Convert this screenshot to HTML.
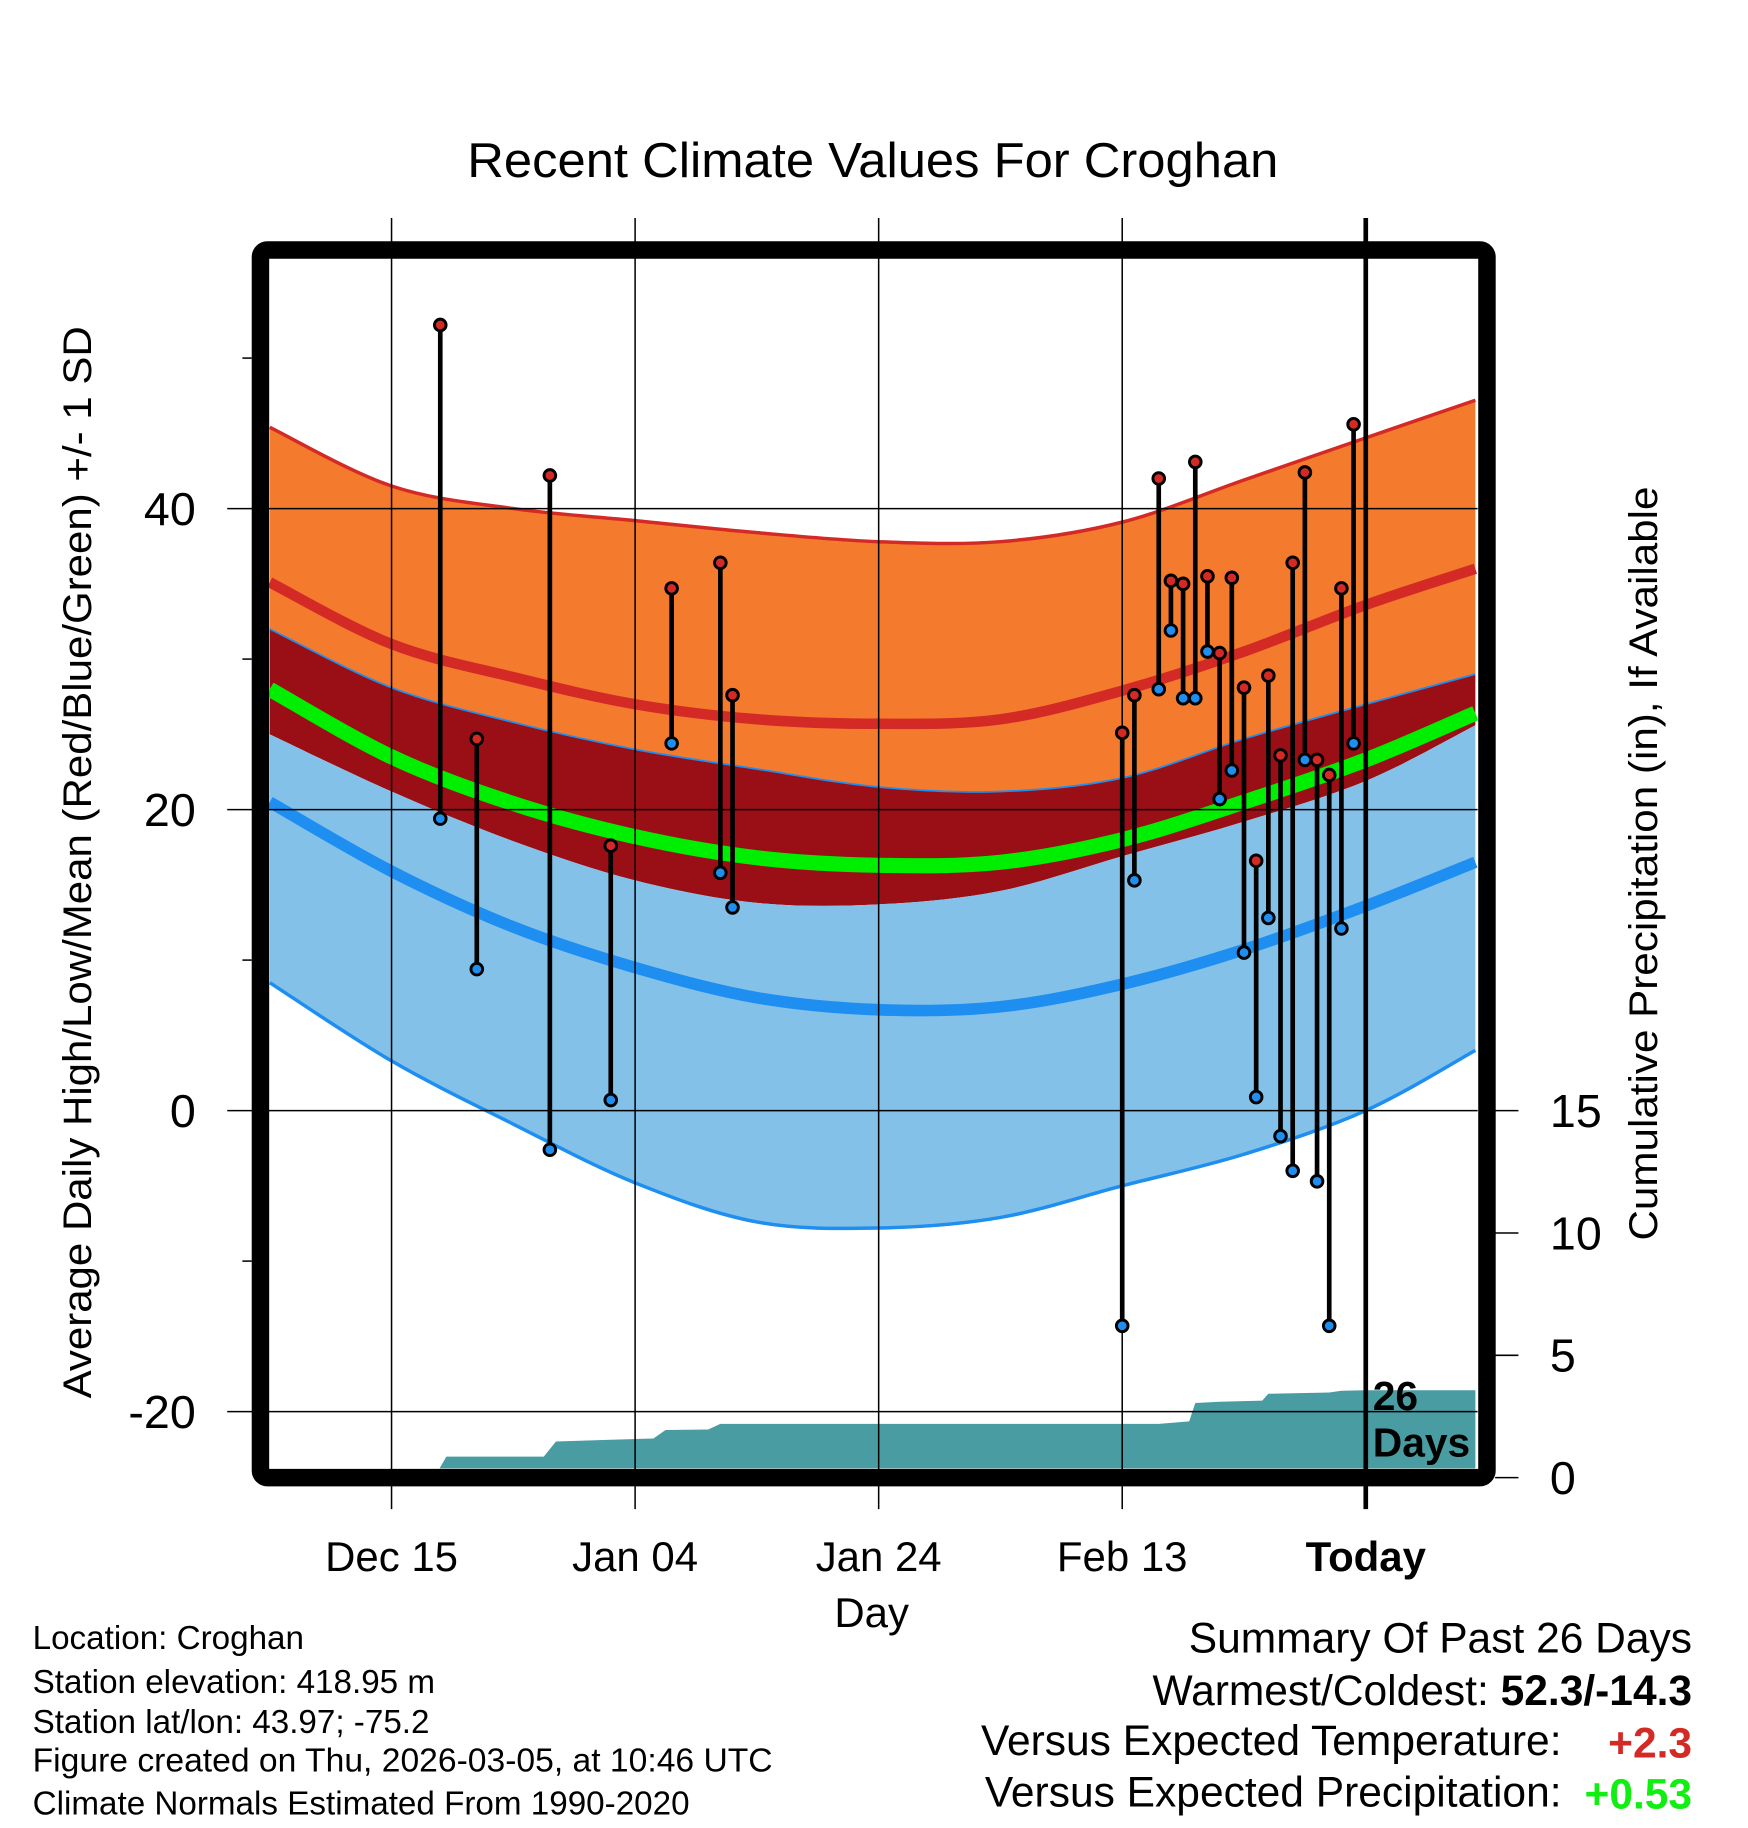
<!DOCTYPE html>
<html><head><meta charset="utf-8"><style>
html,body{margin:0;padding:0;background:#fff}
svg{display:block}
text{font-family:"Liberation Sans",sans-serif}
</style></head><body>
<svg id="chart" width="1748" height="1828" viewBox="0 0 1500 1568.6" xmlns="http://www.w3.org/2000/svg">
<defs><clipPath id="pc"><rect x="231" y="222" width="1037" height="1038"/></clipPath></defs>
<text x="749" y="152" font-size="42" text-anchor="middle" textLength="696" lengthAdjust="spacingAndGlyphs">Recent Climate Values For Croghan</text>
<g id="bands" clip-path="url(#pc)"></g>
<g id="grid"></g>
<g id="obs" clip-path="url(#pc)"></g>
<rect x="223.5" y="214.5" width="1052.5" height="1053.5" rx="6" fill="none" stroke="#000" stroke-width="15"/>
<g id="axes"></g>
<text transform="translate(78,740) rotate(-90)" font-size="34" text-anchor="middle" textLength="920" lengthAdjust="spacingAndGlyphs">Average Daily High/Low/Mean (Red/Blue/Green) +/- 1 SD</text>
<text transform="translate(1422,741) rotate(-90)" font-size="34" text-anchor="middle" textLength="647" lengthAdjust="spacingAndGlyphs">Cumulative Precipitation (in), If Available</text>
<text x="748" y="1396" font-size="36" text-anchor="middle">Day</text>
<g font-size="28.5">
<text x="28" y="1415">Location: Croghan</text>
<text x="28" y="1453">Station elevation: 418.95 m</text>
<text x="28" y="1487">Station lat/lon: 43.97; -75.2</text>
<text x="28" y="1520" textLength="635" lengthAdjust="spacingAndGlyphs">Figure created on Thu, 2026-03-05, at 10:46 UTC</text>
<text x="28" y="1557">Climate Normals Estimated From 1990-2020</text>
</g>
<g font-size="36.5">
<text x="1452" y="1418" text-anchor="end">Summary Of Past 26 Days</text>
<text x="1452" y="1463" text-anchor="end">Warmest/Coldest: <tspan font-weight="bold">52.3/-14.3</tspan></text>
<text x="1340" y="1506" text-anchor="end">Versus Expected Temperature:</text>
<text x="1452" y="1508" text-anchor="end" font-weight="bold" fill="#d42a26">+2.3</text>
<text x="1340" y="1550" text-anchor="end">Versus Expected Precipitation:</text>
<text x="1452" y="1552" text-anchor="end" font-weight="bold" fill="#11ee11">+0.53</text>
</g>
</svg>
<script>
const normDays=[-90,-80,-70,-60,-50,-40,-30,-20,-10,0,9];
const highPlusSD=[45.4,41.5,40,39.2,38.4,37.8,37.8,39.1,41.9,44.7,47.2];
const highMean=[35.1,31,28.8,27,26,25.7,26,27.9,30.5,33.6,36];
const highMinusSD=[32,28.1,25.8,24,22.7,21.5,21.2,22.1,24.7,27,29];
const meanTemp=[28,23.5,20.4,18.2,16.8,16.3,16.5,18,20.5,23.3,26.4];
const lowPlusSD=[25,21.2,17.9,15.3,13.8,13.7,14.6,16.9,19.2,21.9,25.6];
const lowMean=[20.5,15.9,12.2,9.5,7.5,6.7,6.9,8.4,10.7,13.6,16.5];
const lowMinusSD=[8.5,3.3,-0.9,-4.8,-7.4,-7.8,-7.1,-5,-2.9,0,4];
const obsDays=[-76,-73,-67,-62,-57,-53,-52,-20,-19,-17,-16,-15,-14,-13,-12,-11,-10,-9,-8,-7,-6,-5,-4,-3,-2,-1];
const obsHigh=[52.2,24.7,42.2,17.6,34.7,36.4,27.6,25.1,27.6,42,35.2,35,43.1,35.5,30.4,35.4,28.1,16.6,28.9,23.6,36.4,42.4,23.3,22.3,34.7,45.6];
const obsLow=[19.4,9.4,-2.6,0.7,24.4,15.8,13.5,-14.3,15.3,28,31.9,27.4,27.4,30.5,20.7,22.6,10.5,0.9,12.8,-1.7,-4,23.3,-4.7,-14.3,12.1,24.4];
const precipDays=[-90,-76.5,-75.5,-67.5,-66.5,-62,-58.5,-57.5,-54,-53,-17,-16,-14.5,-14,-12,-8.5,-8,-3,-2,0,9];
const precipCum=[0,0,0.86,0.86,1.48,1.55,1.6,1.95,1.97,2.2,2.2,2.24,2.3,3.05,3.1,3.15,3.43,3.48,3.55,3.57,3.57];
const xTickDays=[-80,-60,-40,-20,0];
const xTickLabels=['Dec 15','Jan 04','Jan 24','Feb 13','Today'];
const yTicks=[-20,0,20,40];
const yMinor=[-10,10,30,50];
const y2Ticks=[0,5,10,15];

const NS='http://www.w3.org/2000/svg';
const X=d=>1172+10.45*d;
const Y=t=>953-12.915*t;
const Y2=p=>1268-21*p;
function mk(parent,tag,attrs){const e=document.createElementNS(NS,tag);for(const k in attrs)e.setAttribute(k,attrs[k]);parent.appendChild(e);return e;}
function smooth(xs,ys){let p=[];for(let i=0;i<xs.length;i++)p.push([X(xs[i]),Y(ys[i])]);
 let d='M'+p[0][0]+','+p[0][1];
 for(let i=0;i<p.length-1;i++){const p0=p[Math.max(0,i-1)],p1=p[i],p2=p[i+1],p3=p[Math.min(p.length-1,i+2)];
  const c1=[p1[0]+(p2[0]-p0[0])/6,p1[1]+(p2[1]-p0[1])/6],c2=[p2[0]-(p3[0]-p1[0])/6,p2[1]-(p3[1]-p1[1])/6];
  d+=' C'+c1+' '+c2+' '+p2;}
 return d;}
function revSmooth(xs,ys){return smooth(xs.slice().reverse(),ys.slice().reverse()).replace(/^M/,'L');}
function band(g,top,bot,fill,name){const el=mk(g,'path',{d:smooth(normDays,top)+' '+revSmooth(normDays,bot)+' Z',fill:fill});
 
 }
function line(g,vals,color,w,name){const el=mk(g,'path',{d:smooth(normDays,vals),fill:'none',stroke:color,'stroke-width':w});
 
 }
const bands=document.getElementById('bands');
band(bands,highPlusSD,highMinusSD,'#f47a2e','high-sd-band');
band(bands,highMinusSD,lowPlusSD,'#9a0f16','overlap-band');
band(bands,lowPlusSD,lowMinusSD,'#83c1e8','low-sd-band');
line(bands,highPlusSD,'#d42a26',3,'high-plus-sd-line');
line(bands,highMinusSD,'#1e8ff0',1.5,'high-minus-sd-line');
line(bands,lowMinusSD,'#1e8ff0',3,'low-minus-sd-line');
line(bands,highMean,'#d42a26',9,'high-mean-line');
line(bands,meanTemp,'#00ee00',13,'mean-line');
line(bands,lowMean,'#1e8ff0',10,'low-mean-line');
let pd='M'+X(precipDays[0])+','+Y2(0);
for(let i=0;i<precipDays.length;i++)pd+=' L'+X(precipDays[i])+','+Y2(precipCum[i]);
pd+=' L'+X(precipDays[precipDays.length-1])+','+Y2(0)+' Z';
const pa=mk(bands,'path',{d:pd,fill:'#4a9ca3'});



const grid=document.getElementById('grid');
yTicks.forEach(t=>{const l=mk(grid,'line',{x1:195,x2:1268,y1:Y(t),y2:Y(t),stroke:'#000','stroke-width':1.3});
 
 });
xTickDays.forEach(d=>{const l=mk(grid,'line',{x1:X(d),x2:X(d),y1:187,y2:1295,stroke:'#000','stroke-width':d===0?4:1.3});
 
 });

const obs=document.getElementById('obs');
obsDays.forEach((d,i)=>{
 const s=mk(obs,'line',{x1:X(d),x2:X(d),y1:Y(obsHigh[i]),y2:Y(obsLow[i]),stroke:'#000','stroke-width':4});
 
 
 const h=mk(obs,'circle',{cx:X(d),cy:Y(obsHigh[i]),r:5,fill:'#d42a26',stroke:'#000','stroke-width':2.5});
 
 
 const lo=mk(obs,'circle',{cx:X(d),cy:Y(obsLow[i]),r:5,fill:'#1e8ff0',stroke:'#000','stroke-width':2.5});
 
 
});
const dl=mk(obs,'text',{x:1178,y:1210,'font-size':35,'font-weight':'bold'});dl.textContent='26';


const dl2=mk(obs,'text',{x:1178,y:1250,'font-size':35,'font-weight':'bold'});dl2.textContent='Days';



const axes=document.getElementById('axes');
yTicks.forEach(t=>{const tx=mk(axes,'text',{x:168,y:Y(t)+14,'font-size':40,'text-anchor':'end'});tx.textContent=t;
 
 });
yMinor.forEach(t=>{const l=mk(axes,'line',{x1:208,x2:216,y1:Y(t),y2:Y(t),stroke:'#000','stroke-width':1.3});
 
 });
y2Ticks.forEach(p=>{const l=mk(axes,'line',{x1:1283,x2:1303,y1:Y2(p),y2:Y2(p),stroke:'#000','stroke-width':1.3});
 
 
 const tx=mk(axes,'text',{x:1330,y:Y2(p)+14,'font-size':40});tx.textContent=p;
 
 });
xTickDays.forEach((d,i)=>{const tx=mk(axes,'text',{x:X(d),y:1348,'font-size':36,'text-anchor':'middle','font-weight':d===0?'bold':'normal'});tx.textContent=xTickLabels[i];
 
 });
</script>
</body></html>
